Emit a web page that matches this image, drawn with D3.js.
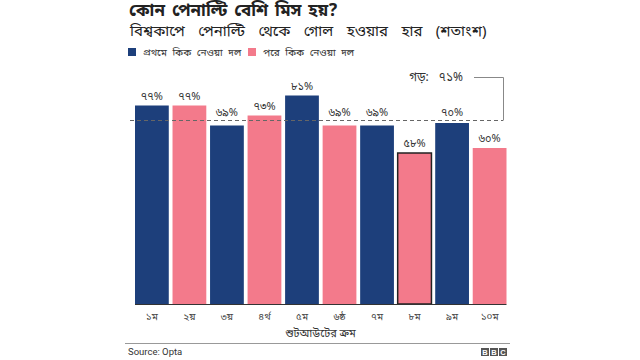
<!DOCTYPE html>
<html>
<head>
<meta charset="utf-8">
<script src="https://cdn.jsdelivr.net/npm/d3@7"></script>
<style>
  body { margin: 0; background: #fff; }
  text { font-family: 'Noto Sans Bengali', 'Noto Sans', 'DejaVu Sans', sans-serif; }
</style>
</head>
<body>
<div id="chart"></div>
<script>
// data
var rounds = ['১ম', '২য়', '৩য়', '৪র্থ', '৫ম', '৬ষ্ঠ', '৭ম', '৮ম', '৯ম', '১০ম']
var rates = [77, 77, 69, 73, 81, 69, 69, 58, 70, 60]
var rateLabels = ['৭৭%', '৭৭%', '৬৯%', '৭৩%', '৮১%', '৬৯%', '৬৯%', '৫৮%', '৭০%', '৬০%']
var teams = ['first', 'second', 'first', 'second', 'first', 'second', 'first', 'second', 'first', 'second']
var average = 71
var averageLabel = 'গড়: ৭১%'
var highlight = '৮ম'

var width = 640
var height = 360

var colors = { first: '#1d3f7b', second: '#f37a8b' }

var svg = d3.select('#chart')
  .append('svg')
  .attr('width', width)
  .attr('height', height)

// scales
var xPositionScale = d3.scaleBand()
  .domain(rounds)
  .range([135, 506.5])
  .paddingInner(0.1)
  .paddingOuter(0)

var yPositionScale = d3.scaleLinear()
  .domain([0, 100])
  .range([298, 48])

var baseline = 304
var yAvg = yPositionScale(average)

// title + subtitle
svg.append('text')
  .attr('x', 129)
  .attr('y', 15.5)
  .attr('font-size', 17)
  .attr('font-weight', 'bold')
  .attr('fill', '#222')
  .style('word-spacing', '2.5px')
  .text('কোন পেনাল্টি বেশি মিস হয়?')

svg.append('text')
  .attr('x', 130)
  .attr('y', 36)
  .attr('font-size', 15)
  .attr('fill', '#222')
  .style('word-spacing', '9.5px')
  .text('বিশ্বকাপে পেনাল্টি থেকে গোল হওয়ার হার (শতাংশ)')

// legend
var legend = [
  { key: 'first', label: 'প্রথমে কিক নেওয়া দল', x: 128 },
  { key: 'second', label: 'পরে কিক নেওয়া দল', x: 248 }
]

legend.forEach(function(l) {
  svg.append('rect')
    .attr('x', l.x)
    .attr('y', 48)
    .attr('width', 8)
    .attr('height', 8)
    .attr('fill', colors[l.key])
  svg.append('text')
    .attr('x', l.x + 15)
    .attr('y', 56)
    .attr('font-size', 10)
    .attr('fill', '#333')
    .style('word-spacing', '3px')
    .text(l.label)
})

// bars
svg.selectAll('.bar')
  .data(rounds)
  .enter()
  .append('rect')
  .attr('class', 'bar')
  .attr('x', d => xPositionScale(d))
  .attr('width', xPositionScale.bandwidth())
  .attr('y', (d, i) => yPositionScale(rates[i]))
  .attr('height', (d, i) => baseline - yPositionScale(rates[i]))
  .attr('fill', (d, i) => colors[teams[i]])
  .attr('stroke', d => d === highlight ? '#222' : 'none')
  .attr('stroke-width', 1.5)

// value labels, nudged up when they would sit on the average line
svg.selectAll('.value')
  .data(rounds)
  .enter()
  .append('text')
  .attr('class', 'value')
  .attr('x', d => xPositionScale(d) + xPositionScale.bandwidth() / 2)
  .attr('y', function(d, i) {
    var y = yPositionScale(rates[i]) - 6
    if (y > yAvg - 5 && y - 9 < yAvg) y = yAvg - 5
    return y
  })
  .attr('text-anchor', 'middle')
  .attr('font-size', 11)
  .attr('fill', '#333')
  .text((d, i) => rateLabels[i])

// average line
svg.append('line')
  .attr('x1', 130)
  .attr('x2', 503)
  .attr('y1', yAvg)
  .attr('y2', yAvg)
  .attr('stroke', '#666')
  .attr('stroke-width', 1)
  .attr('stroke-dasharray', '4,3')

svg.append('path')
  .attr('d', 'M474,77.5 H503.5 V' + yAvg)
  .attr('fill', 'none')
  .attr('stroke', '#888')
  .attr('stroke-width', 1)

svg.append('text')
  .attr('x', 463)
  .attr('y', 81)
  .attr('text-anchor', 'end')
  .attr('font-size', 12)
  .attr('fill', '#333')
  .style('word-spacing', '7px')
  .text(averageLabel)

// x axis
var xAxis = d3.axisBottom(xPositionScale).tickSize(0).tickPadding(9)
svg.append('g')
  .attr('class', 'axis x-axis')
  .attr('transform', 'translate(0,' + baseline + ')')
  .call(xAxis)
  .call(g => g.select('.domain')
    .attr('d', 'M135,0.5H506.5')
    .attr('stroke', '#333'))
  .call(g => g.selectAll('.tick text')
    .attr('font-size', 10)
    .attr('fill', '#444')
    .attr('font-family', null))

svg.append('text')
  .attr('x', 320.5)
  .attr('y', 337)
  .attr('text-anchor', 'middle')
  .attr('font-size', 11)
  .attr('fill', '#333')
  .text('শুটআউটের ক্রম')

// footer
svg.append('line')
  .attr('x1', 125)
  .attr('x2', 510)
  .attr('y1', 343.5)
  .attr('y2', 343.5)
  .attr('stroke', '#999')
  .attr('stroke-width', 1)

svg.append('text')
  .attr('x', 128)
  .attr('y', 355)
  .attr('font-size', 9.5)
  .attr('fill', '#333')
  .style('font-family', 'Roboto, sans-serif')
  .text('Source: Opta')

var logo = svg.append('g').attr('transform', 'translate(481,348)')
;['B', 'B', 'C'].forEach(function(ch, i) {
  logo.append('rect')
    .attr('x', i * 9)
    .attr('y', 0)
    .attr('width', 8)
    .attr('height', 8)
    .attr('fill', '#555')
  logo.append('text')
    .attr('x', i * 9 + 4)
    .attr('y', 7)
    .attr('text-anchor', 'middle')
    .attr('font-size', 7.5)
    .attr('font-weight', 'bold')
    .attr('fill', '#fff')
    .style('font-family', 'Arial, Liberation Sans, sans-serif')
    .text(ch)
})
</script>
</body>
</html>
